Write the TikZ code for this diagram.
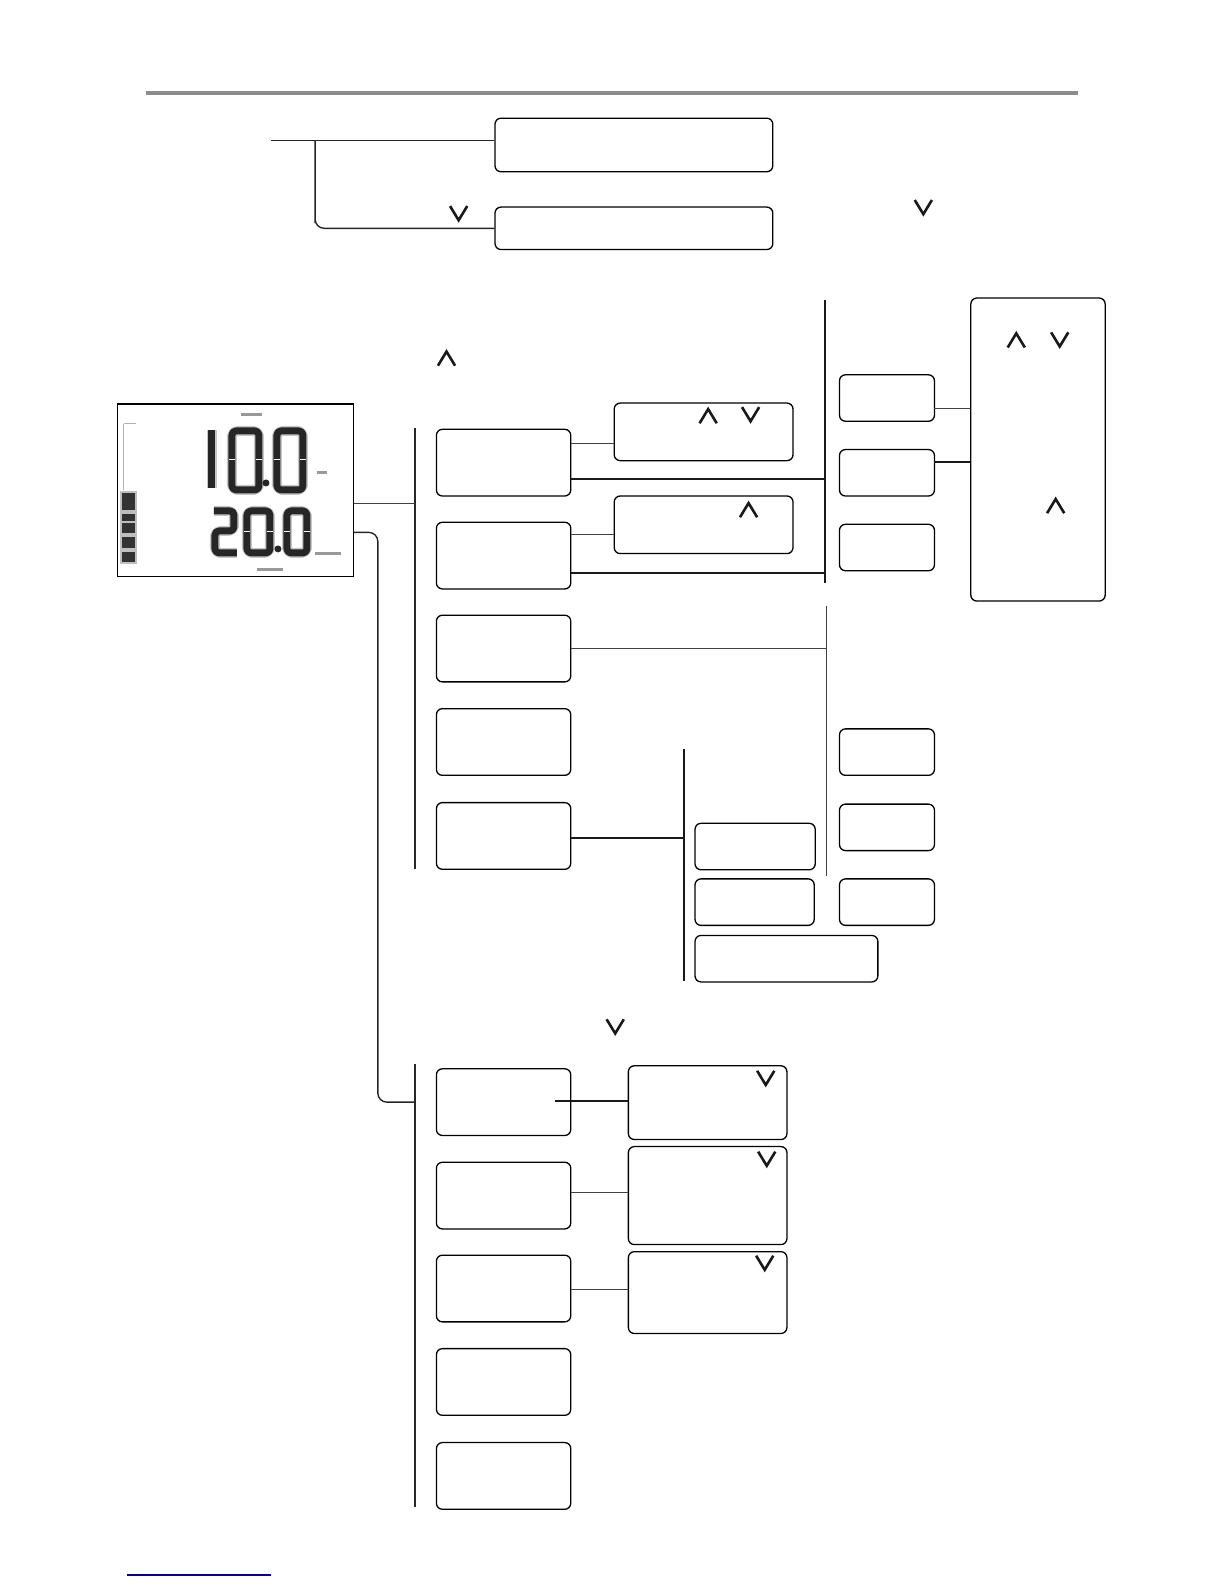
\documentclass[tikz,border=0pt]{standalone}
\usepackage{amsmath}
\def\pxs{1.0103pt}
\tikzset{
  panel/.style 2 args={draw,rounded corners=6pt,line width=1.3pt,inner sep=0pt,
    minimum width=#1*\pxs,minimum height=#2*\pxs},
  item node/.style={panel={133}{66}},
  small node/.style={panel={94}{46}},
  bus/.style={line width=1.4pt,black!85},
  hair/.style={line width=0.9pt,black!75},
  heavy/.style={line width=2pt,black!90},
  chev/.style={line width=2.6pt,black!90,miter limit=10},
  seg/.style={line width=7pt,black!85,line join=round,rounded corners=4pt},
  segglow/.style={line width=10pt,black!22,line join=round,rounded corners=6pt},
  smudge/.style={line width=3pt,black!40}
}
\begin{document}
\begin{tikzpicture}[x=\pxs,y=-\pxs]
  \useasboundingbox (0,0) rectangle (1211.5,1568);
  % header and footer rules
  \coordinate (rl) at (145,92);
  \coordinate (rr) at (1067,92);
  \coordinate (fl) at (126,1559);
  \coordinate (fr) at (268,1559);
  \draw[line width=3.4pt,black!45] (rl) -- (rr);
  \draw[line width=1.6pt,blue!60!black] (fl) -- (fr);
  % top choice
  \node[panel={275}{53}] (ta) at (627.5,143.5) {};
  \node[panel={275}{42}] (tb) at (627.5,226) {};
  \coordinate (t0) at (268,139);
  \coordinate (t1) at (312,139);
  \draw[bus] (t0) -- (t0 -| ta.west);
  \draw[bus,rounded corners=9pt] (t1) |- (t1 |- tb.west) -- (tb.west);
  % display
  \node[draw,line width=1.2pt,inner sep=0pt,minimum width=234*\pxs,minimum height=171*\pxs] (lcd) at (233,485.5) {};
  \begin{scope}[x=1pt,y=-1pt]
    \foreach \a/\b in {232/259,277/303} {
      \draw[segglow] (\a,431) rectangle (\b,490);
      \draw[seg] (\a,431) rectangle (\b,490);
      \draw[white,line width=1pt] (\a-3,460) -- (\a+3,460) (\b-3,460) -- (\b+3,460);
    }
    \foreach \a/\b in {247/270,287/307} {
      \draw[segglow] (\a,511) rectangle (\b,553);
      \draw[seg] (\a,511) rectangle (\b,553);
      \draw[white,line width=1pt] (\a-3,532) -- (\a+3,532) (\b-3,532) -- (\b+3,532);
    }
    \draw[segglow] (212,430) -- (212,488);
    \draw[seg] (212,430) -- (212,488);
    \draw[segglow] (214,511) -- (234,511) -- (234,531) -- (215,531) -- (215,553) -- (237,553);
    \draw[seg] (214,511) -- (234,511) -- (234,531) -- (215,531) -- (215,553) -- (237,553);
    \fill[black!85] (266,483) circle (3.5pt) (278,549) circle (3.5pt);
    \fill[black!25] (120,491) rectangle (137,564);
    \foreach \p/\q in {493/510,514/521,523/533,537/548,552/562}
      \fill[black!80] (122,\p) rectangle (135,\q);
    \draw[line width=1pt,black!30] (124,424) -- (124,490) (124,424) -- (136,424);
    \draw[smudge] (241,415) -- (262,415) (317,473) -- (327,473) (315,554) -- (341,554) (257,570) -- (283,570);
  \end{scope}
  % main buses
  \coordinate (u0) at (411,424);
  \coordinate (u1) at (411,860);
  \coordinate (d0) at (411,1053);
  \coordinate (d1) at (411,1492);
  \draw[bus] (u0) -- (u1);
  \draw[bus] (d0) -- (d1);
  \coordinate (l1) at (350,498);
  \coordinate (l2) at (350,527);
  \coordinate (l3) at (374,1091);
  \draw[hair] (l1) -- (l1 -| u0);
  \draw[bus,rounded corners=9pt] (l2) -| (l3) -- (l3 -| d0);
  % upper column
  \node[item node] (1) at (498.5,458) {};
  \node[item node] (2) at (498.5,550) {};
  \node[item node] (3) at (498.5,642) {};
  \node[item node] (4) at (498.5,734.5) {};
  \node[item node] (5) at (498.5,827.5) {};
  % lower column
  \node[item node] (6) at (498.5,1091) {};
  \node[item node] (7) at (498.5,1183.5) {};
  \node[item node] (8) at (498.5,1275.5) {};
  \node[item node] (9) at (498.5,1368) {};
  \node[item node] (10) at (498.5,1461) {};
  % notes beside the columns
  \node[panel={177}{57}] (n1) at (696.5,427.5) {};
  \node[panel={177}{57}] (n2) at (696.5,519.5) {};
  \node[panel={157}{73}] (n3) at (700.5,1091.5) {};
  \node[panel={157}{97}] (n4) at (700.5,1183.5) {};
  \node[panel={157}{81}] (n5) at (700.5,1279.5) {};
  \coordinate (j1) at (608,439);
  \coordinate (j2) at (608,529);
  \coordinate (j3) at (549,1090);
  \coordinate (j4) at (622,1180);
  \coordinate (j5) at (622,1276);
  \draw[hair] (1.east |- j1) -- (n1.west |- j1);
  \draw[hair] (2.east |- j2) -- (n2.west |- j2);
  \draw[heavy] (j3) -- (n3.west |- j3);
  \draw[hair] (7.east |- j4) -- (j4);
  \draw[hair] (8.east |- j5) -- (j5);
  % right hand buses
  \coordinate (r0) at (817,297);
  \coordinate (r1) at (817,577);
  \coordinate (s0) at (818,600);
  \coordinate (s1) at (818,867);
  \coordinate (q0) at (677,741);
  \coordinate (q1) at (677,971);
  \draw[heavy] (r0) -- (r1);
  \draw[hair] (s0) -- (s1);
  \draw[heavy] (q0) -- (q1);
  \coordinate (k1) at (565,474);
  \coordinate (k2) at (565,567);
  \coordinate (k3) at (565,642);
  \coordinate (k4) at (565,830);
  \draw[heavy] (k1) -- (k1 -| r0);
  \draw[heavy] (k2) -- (k2 -| r0);
  \draw[hair] (k3) -- (k3 -| s0);
  \draw[heavy] (k4) -- (k4 -| q0);
  % small boxes
  \node[small node] (a1) at (878,394) {};
  \node[small node] (a2) at (878,468) {};
  \node[small node] (a3) at (878,542) {};
  \node[small node] (b1) at (878,744.5) {};
  \node[small node] (b2) at (878,819) {};
  \node[small node] (b3) at (878,893) {};
  \node[panel={119}{46}] (c1) at (747.5,838) {};
  \node[panel={118}{46}] (c2) at (747,893) {};
  \node[panel={181}{46}] (c3) at (778.5,949) {};
  \node[panel={133}{300}] (big) at (1027.5,445) {};
  \coordinate (m1) at (925,404);
  \coordinate (m2) at (925,457);
  \draw[hair] (m1) -- (m1 -| big.west);
  \draw[heavy] (m2) -- (m2 -| big.west);
  % arrow marks
  \foreach \x/\y in {442/355,1006/337,1045/501,701/412,741/505}
    \draw[chev] (\x-8.5,\y+7) -- (\x,\y-7) -- (\x+8.5,\y+7);
  \foreach \x/\y in {454/211,914/205,609/1016,1049/336,743/410,758/1067,759/1147,757/1250}
    \draw[chev] (\x-8.5,\y-7) -- (\x,\y+7) -- (\x+8.5,\y-7);
\end{tikzpicture}
\end{document}
